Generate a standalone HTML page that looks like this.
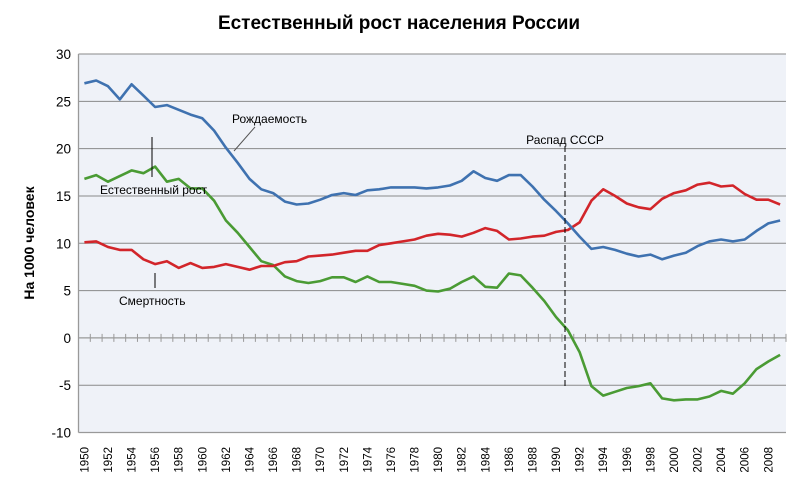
<!DOCTYPE html>
<html><head><meta charset="utf-8"><style>
body{margin:0;background:#fff;}
svg{display:block;font-family:"Liberation Sans","DejaVu Sans",sans-serif;}
</style></head><body>
<svg id="s" width="800" height="489" xmlns="http://www.w3.org/2000/svg"></svg>
<script>
const s=document.getElementById('s');
const L=78.5,R=786,T=54,B=432.5;
const W=(R-L)/60;
const X=i=>L+W*(i+0.5);
const Y=v=>T+(30-v)*(B-T)/40;
let h='';
h+=`<text x="399" y="29" text-anchor="middle" font-size="19" font-weight="bold" fill="#000">Естественный рост населения России</text>`;
h+=`<rect x="${L}" y="${T}" width="${R-L}" height="${B-T}" fill="#eff2f8"/>`;
for(let v=30;v>=-10;v-=5){
 const y=Y(v);
 if(v!==0&&v!==-10) h+=`<line x1="${L}" x2="${R}" y1="${y}" y2="${y}" stroke="#8a8a8a" stroke-width="1"/>`;
 h+=`<text x="71" y="${y+5}" text-anchor="end" font-size="13.5" fill="#000">${v}</text>`;
}
h+=`<line x1="${L}" x2="${R}" y1="${B}" y2="${B}" stroke="#999" stroke-width="1.3"/>`;
h+=`<line x1="${L}" x2="${L}" y1="${T}" y2="${B}" stroke="#999" stroke-width="1.3"/>`;
const y0=Y(0);
h+=`<line x1="${L}" x2="${R}" y1="${y0}" y2="${y0}" stroke="#999" stroke-width="1.3"/>`;
for(let i=1;i<=60;i++){const x=L+W*i;h+=`<line x1="${x}" x2="${x}" y1="${y0-4}" y2="${y0+4}" stroke="#999" stroke-width="1"/>`;}
for(let i=0;i<60;i+=2){const x=X(i);h+=`<text transform="translate(${x+4},447) rotate(-90)" text-anchor="end" font-size="11.5" fill="#000">${1950+i}</text>`;}
h+=`<text transform="translate(34,243) rotate(-90)" text-anchor="middle" font-size="14" font-weight="bold" fill="#000">На 1000 человек</text>`;
const birth=[26.9,27.2,26.6,25.2,26.8,25.6,24.4,24.6,24.1,23.6,23.2,21.9,20.1,18.5,16.8,15.7,15.3,14.4,14.1,14.2,14.6,15.1,15.3,15.1,15.6,15.7,15.9,15.9,15.9,15.8,15.9,16.1,16.6,17.6,16.9,16.6,17.2,17.2,16.0,14.6,13.4,12.1,10.7,9.4,9.6,9.3,8.9,8.6,8.8,8.3,8.7,9.0,9.7,10.2,10.4,10.2,10.4,11.3,12.1,12.4];
const death=[10.1,10.2,9.6,9.3,9.3,8.3,7.8,8.1,7.4,7.9,7.4,7.5,7.8,7.5,7.2,7.6,7.6,8.0,8.1,8.6,8.7,8.8,9.0,9.2,9.2,9.8,10.0,10.2,10.4,10.8,11.0,10.9,10.7,11.1,11.6,11.3,10.4,10.5,10.7,10.8,11.2,11.4,12.2,14.5,15.7,15.0,14.2,13.8,13.6,14.7,15.3,15.6,16.2,16.4,16.0,16.1,15.2,14.6,14.6,14.1];
const nat=[16.8,17.2,16.5,17.1,17.7,17.4,18.1,16.5,16.8,15.8,15.8,14.5,12.4,11.1,9.6,8.1,7.7,6.5,6.0,5.8,6.0,6.4,6.4,5.9,6.5,5.9,5.9,5.7,5.5,5.0,4.9,5.2,5.9,6.5,5.4,5.3,6.8,6.6,5.3,3.9,2.2,0.8,-1.5,-5.1,-6.1,-5.7,-5.3,-5.1,-4.8,-6.4,-6.6,-6.5,-6.5,-6.2,-5.6,-5.9,-4.8,-3.3,-2.5,-1.8];
const line=(d,c)=>`<polyline fill="none" stroke="${c}" stroke-width="2.6" stroke-linejoin="round" points="${d.map((v,i)=>X(i).toFixed(1)+','+Y(v).toFixed(1)).join(' ')}"/>`;
h+=line(nat,'#4a9b34')+line(death,'#d2252a')+line(birth,'#3f72b0');
h+=`<line x1="565" x2="565" y1="146" y2="388" stroke="#000" stroke-width="1" stroke-dasharray="6,3"/>`;
h+=`<text x="565" y="144" text-anchor="middle" font-size="12" fill="#000">Распад СССР</text>`;
h+=`<text x="232" y="123" font-size="12" fill="#000">Рождаемость</text>`;
h+=`<line x1="255" y1="127" x2="234" y2="151" stroke="#555" stroke-width="1"/>`;
h+=`<text x="100" y="194" font-size="12" fill="#000">Естественный рост</text>`;
h+=`<line x1="152" y1="177" x2="152" y2="137" stroke="#000" stroke-width="1"/>`;
h+=`<text x="119" y="305" font-size="12" fill="#000">Смертность</text>`;
h+=`<line x1="155" y1="288" x2="155" y2="273" stroke="#000" stroke-width="1"/>`;
s.innerHTML=h;
</script>
</body></html>
